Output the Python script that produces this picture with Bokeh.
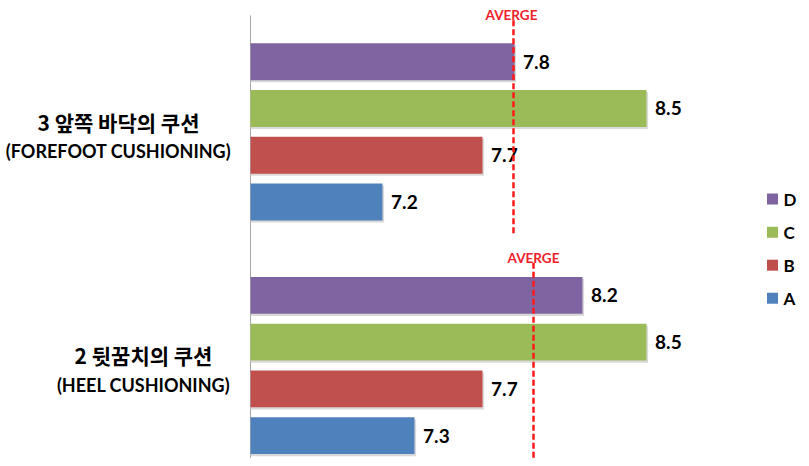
from bokeh.plotting import figure
from bokeh.models import ColumnDataSource, Range1d
from bokeh.core.properties import value
from bokeh.embed import file_html
from bokeh.resources import INLINE

# ---- data ----
groups_kr = ["2 뒷꿈치의 쿠션", "3 앞쪽 바닥의 쿠션"]
groups_en = ["(HEEL CUSHIONING)", "(FOREFOOT CUSHIONING)"]
series = ["A", "B", "C", "D"]
colors = ["#4F81BD", "#C0504D", "#9BBB59", "#8064A2"]
heel_values = [7.32, 7.66, 8.48, 8.16]
forefoot_values = [7.16, 7.66, 8.48, 7.82]
averages = [7.915, 7.815]          # heel, forefoot
avg_label = "AVERGE"

BASE = 6.5          # value at which the bars start (vertical axis line)
GROUP_STEP = 5      # slots per group (4 bars + 1 empty)

# ---- build sources ----
ys, lefts, rights, cols, labels = [], [], [], [], []
for g, vals in enumerate([heel_values, forefoot_values]):
    for s, v in enumerate(vals):
        ys.append(g * GROUP_STEP + s)
        lefts.append(BASE)
        rights.append(v)
        cols.append(colors[s])
        labels.append(f"{v:.1f}")
bars = ColumnDataSource(dict(y=ys, left=lefts, right=rights, color=cols, label=labels,
                             ly=ys, lx=[r + 0.043 for r in rights],
                             sy=[y - 0.045 for y in ys], sr=[r + 0.008 for r in rights]))

p = figure(width=801, height=458, x_range=Range1d(5.25, 9.255), y_range=Range1d(-0.49, 9.31),
           output_backend="svg", toolbar_location=None, min_border=0,
           x_axis_location=None, y_axis_location=None)
p.grid.visible = False
p.outline_line_color = None
p.background_fill_color = "white"

# vertical axis line
p.segment(x0=[BASE], y0=[8.99], x1=[BASE], y1=[-0.7], line_color="#a6a6a6", line_width=1)

# shadows + bars
BAR_H = 0.79
p.hbar(y="sy", left="left", right="sr", height=BAR_H, source=bars,
       fill_color="#cfcfcf", line_color=None, fill_alpha=0.8)
p.hbar(y="y", left="left", right="right", height=BAR_H, source=bars,
       fill_color="color", line_color=None)

# value labels
p.text(x="lx", y="ly", text="label", source=bars, text_baseline="middle", text_align="left",
       text_font=value("Lato"), text_font_style="bold", text_font_size="19px", text_color="black")

# averages
avg_tops = [3.70, 8.89]
avg_bottoms = [-0.7, 4.28]
avg_text_y = [3.81, 8.99]
avg_src = ColumnDataSource(dict(x=averages, top=avg_tops, bot=avg_bottoms, ty=avg_text_y,
                                t=[avg_label] * 2, tx=[averages[0] + 0.0, averages[1] - 0.01]))
p.segment(x0="x", y0="top", x1="x", y1="bot", source=avg_src,
          line_color="#ff1a1a", line_width=2.5, line_dash="6 3")
p.text(x="tx", y="ty", text="t", source=avg_src, text_align="center", text_baseline="middle",
       text_font=value("Lato"), text_font_style="bold", text_font_size="13.5px", text_color="#f0202a")

# category labels
centers = [g * GROUP_STEP + 1.5 for g in range(2)]
cat_x = [5.965, 5.84]
p.text(x=cat_x, y=[c + 0.22 for c in centers], text=groups_kr, text_align="center",
       text_baseline="middle", text_font=value("Noto Sans CJK KR"), text_font_style="bold",
       text_font_size="21px", text_color="black")
p.text(x=cat_x, y=[c - 0.41 for c in centers], text=groups_en, text_align="center",
       text_baseline="middle", text_font=value("Lato"), text_font_style="bold",
       text_font_size="18px", text_color="black")

# legend (top to bottom: D, C, B, A)
leg_y = [4.0 + (i - 1.5) * 0.707 for i in range(4)]   # A lowest
p.scatter(x=[9.11] * 4, y=leg_y, marker="square", size=11, fill_color=colors, line_color=None)
p.text(x=[9.165] * 4, y=leg_y, text=series, text_align="left", text_baseline="middle",
       text_font=value("Lato"), text_font_style="bold", text_font_size="17px", text_color="black")

open("out.html", "w").write(file_html(p, INLINE))
